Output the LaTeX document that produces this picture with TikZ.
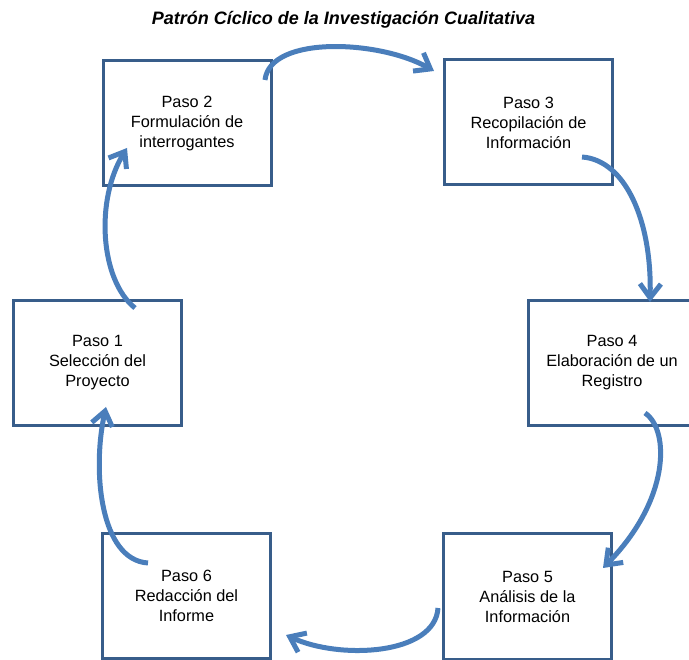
\documentclass[tikz,border=0pt]{standalone}
\usepackage{fontspec}
\setmainfont{Liberation Sans}
\usetikzlibrary{arrows.meta}
\definecolor{boxline}{HTML}{385D8A}
\definecolor{arrowblue}{HTML}{4A7EBB}
\tikzset{
  stepbox/.style={draw=boxline, line width=3pt, minimum width=168pt, minimum height=125pt,
    inner sep=0pt, align=center, font=\fontsize{16.3}{20}\selectfont, text=black},
  cyc/.style={draw=arrowblue, line width=5pt,
    -{Straight Barb[length=14pt, width=21pt]}},
  titletext/.style={font=\fontsize{18}{22}\selectfont\bfseries\itshape, anchor=base, inner sep=0pt}
}
\begin{document}
\begin{tikzpicture}[x=1pt, y=-1pt]
\useasboundingbox (0,0) rectangle (689,660);
\node[titletext] (title) at (343.5,25) {Patrón Cíclico de la Investigación Cualitativa};
\node[stepbox] (b2) at (187,123.5) {Paso 2\\Formulación de\\interrogantes};
\node[stepbox] (b3) at (528.5,122.5) {Paso 3\\Recopilación de\\Información};
\node[stepbox] (b1) at (97.5,363) {Paso 1\\Selección del\\Proyecto};
\node[stepbox] (b4) at (612,363) {Paso 4\\Elaboración de un\\Registro};
\node[stepbox] (b5) at (527.5,596.5) {Paso 5\\Análisis de la\\Información};
\node[stepbox] (b6) at (186.5,596) {Paso 6\\Redacción del\\Informe};
% arrow end points
\coordinate (s23) at (265,80);   \coordinate (t23) at (434,71);
\coordinate (s34) at (582,157);  \coordinate (t34) at (650,302);
\coordinate (s45) at (645,413);  \coordinate (t45) at (603,568);
\coordinate (s56) at (438,608);  \coordinate (t56) at (286,635);
\coordinate (s61) at (148,563);  \coordinate (t61) at (106,407);
\coordinate (s12) at (135,308);  \coordinate (t12) at (127,148);
\draw[cyc] (s23) .. controls (270,35) and (380,40) .. (t23);
\draw[cyc] (s34) .. controls (625,160) and (652,220) .. (t34);
\draw[cyc] (s45) .. controls (670,430) and (670,500) .. (t45);
\draw[cyc] (s56) .. controls (435,655) and (340,660) .. (t56);
\draw[cyc] (s61) .. controls (100,560) and (92,470) .. (t61);
\draw[cyc] (s12) .. controls (100,280) and (95,200) .. (t12);
\end{tikzpicture}
\end{document}
